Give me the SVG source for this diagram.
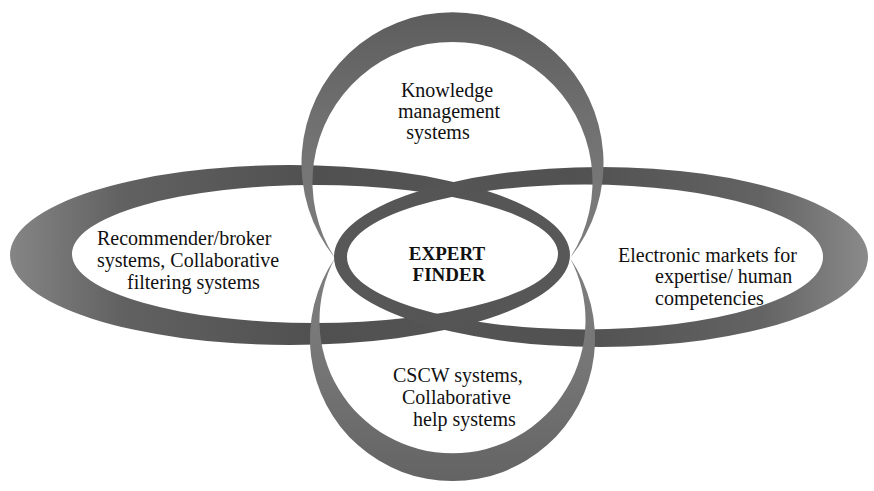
<svg xmlns="http://www.w3.org/2000/svg" width="874" height="491" viewBox="0 0 874 491">
  <defs>
    <!-- ribbon shading: lighter at the wide end of each loop -->
    <linearGradient id="gLeft" gradientUnits="userSpaceOnUse" x1="10" y1="0" x2="570" y2="0">
      <stop offset="0" stop-color="#858585"/>
      <stop offset="0.2" stop-color="#616161"/>
      <stop offset="0.55" stop-color="#505050"/>
      <stop offset="1" stop-color="#585858"/>
    </linearGradient>
    <linearGradient id="gRight" gradientUnits="userSpaceOnUse" x1="868" y1="0" x2="334" y2="0">
      <stop offset="0" stop-color="#8a8a8a"/>
      <stop offset="0.2" stop-color="#636363"/>
      <stop offset="0.55" stop-color="#515151"/>
      <stop offset="1" stop-color="#585858"/>
    </linearGradient>
    <linearGradient id="gTop" gradientUnits="userSpaceOnUse" x1="0" y1="8" x2="0" y2="255">
      <stop offset="0" stop-color="#5c5c5c"/>
      <stop offset="0.45" stop-color="#707070"/>
      <stop offset="1" stop-color="#7e7e7e"/>
    </linearGradient>
    <linearGradient id="gBottom" gradientUnits="userSpaceOnUse" x1="0" y1="478" x2="0" y2="255">
      <stop offset="0" stop-color="#646464"/>
      <stop offset="0.45" stop-color="#747474"/>
      <stop offset="1" stop-color="#808080"/>
    </linearGradient>
  </defs>
  <style>
    .label { font-family: "Liberation Serif", "Times New Roman", serif; font-size: 20px; fill: #111; }
    .core { font-family: "Liberation Serif", "Times New Roman", serif; font-size: 19px; font-weight: bold; fill: #111; }
    .ribbon { fill-rule: evenodd; stroke: none; }
  </style>
  <rect width="874" height="491" fill="#ffffff"/>

  <!-- horizontal loops (drawn first, passed over by the vertical loops) -->
  <g id="recommender-systems">
    <path class="ribbon" fill="url(#gLeft)" d="M10,255 A280,90 0 1,0 570,255 A280,90 0 1,0 10,255 Z M72,254 A243,69 0 1,0 558,254 A243,69 0 1,0 72,254 Z"/>
    <text class="label" x="97" y="245">Recommender/broker</text>
    <text class="label" x="97" y="267">systems, Collaborative</text>
    <text class="label" x="127" y="289">filtering systems</text>
  </g>

  <g id="electronic-markets">
    <path class="ribbon" fill="url(#gRight)" d="M334,257 A267,90 0 1,0 868,257 A267,90 0 1,0 334,257 Z M347,257 A238,72.5 0 1,0 823,257 A238,72.5 0 1,0 347,257 Z"/>
    <text class="label" x="618" y="262">Electronic markets for</text>
    <text class="label" x="655" y="283">expertise/ human</text>
    <text class="label" x="655" y="305">competencies</text>
  </g>

  <!-- vertical loops -->
  <g id="knowledge-management">
    <path class="ribbon" fill="url(#gTop)" d="M335,258 A151,151 0 1,1 570,258 A140,140 0 1,0 335,258 Z"/>
    <text class="label" x="447" y="97" text-anchor="middle">Knowledge</text>
    <text class="label" x="449" y="118" text-anchor="middle">management</text>
    <text class="label" x="438" y="139" text-anchor="middle">systems</text>
  </g>

  <g id="cscw-systems">
    <path class="ribbon" fill="url(#gBottom)" d="M335,258 A142.5,142.5 0 1,0 570,258 A133,133 0 1,1 335,258 Z"/>
    <text class="label" x="393" y="382">CSCW systems,</text>
    <text class="label" x="402" y="404">Collaborative</text>
    <text class="label" x="413" y="426">help systems</text>
  </g>

  <g id="expert-finder">
    <text class="core" x="447" y="260" text-anchor="middle">EXPERT</text>
    <text class="core" x="449" y="281" text-anchor="middle">FINDER</text>
  </g>
</svg>
